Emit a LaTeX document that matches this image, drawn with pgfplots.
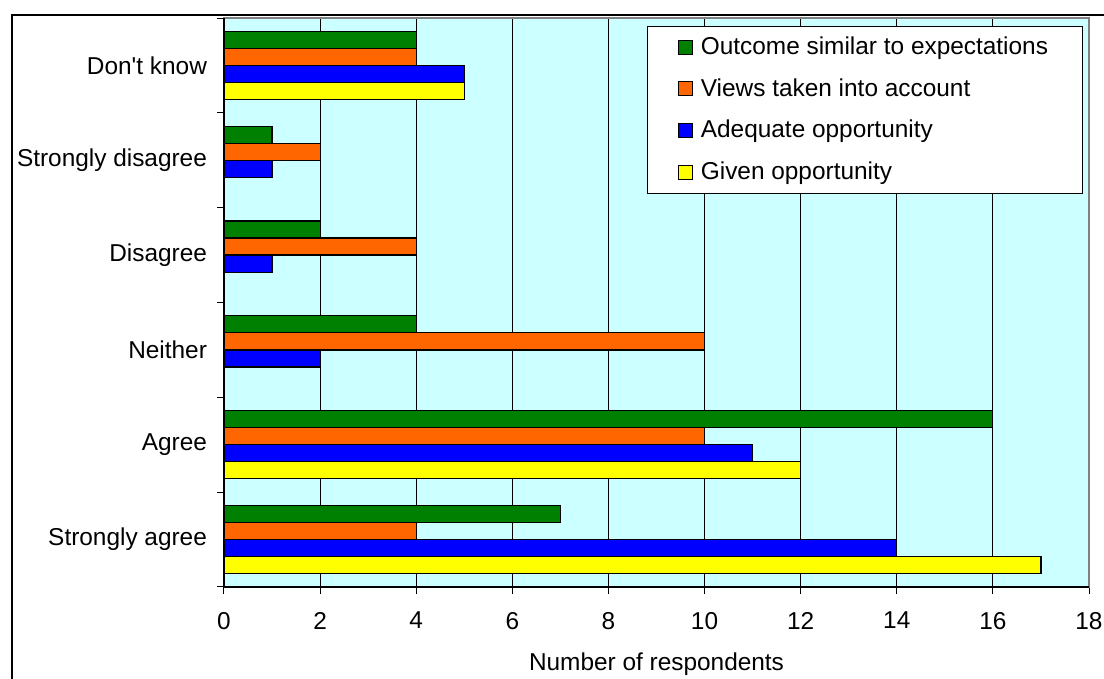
\documentclass[border=0pt]{standalone}
\usepackage{pgfplots}
\pgfplotsset{compat=1.18}
\usepackage{fontspec}
\setmainfont{Liberation Sans}[Ligatures=TeXOff]
\definecolor{bgcyan}{HTML}{CCFFFF}
\definecolor{sgreen}{HTML}{008000}
\definecolor{sorange}{HTML}{FF6600}
\definecolor{sblue}{HTML}{0000FF}
\definecolor{syellow}{HTML}{FFFF00}
\begin{document}
\begin{tikzpicture}
\path[use as bounding box] (-112pt,-46pt) rectangle (440pt,293.5pt);
\draw[black, line width=0.8pt] (-106pt,-46pt) -- (-106pt,286pt) -- (440pt,286pt);
\begin{axis}[
    at={(0,0)}, anchor=south west,
    scale only axis, width=432.5pt, height=284.5pt,
    xbar=0pt, bar width=0.18,
    xmin=0, xmax=18, ymin=0.5, ymax=6.5,
    xtick={0,2,...,18},
    ytick={1,2,3,4,5,6},
    yticklabels={Strongly agree, Agree, Neither, Disagree, Strongly disagree, Don't know},
    minor ytick={0.5,1.5,...,6.5},
    tick pos=left, tick align=outside,
    major tick length=3.5pt, minor tick length=3.5pt,
    major y tick style={draw=none},
    minor y tick style={black, line width=0.5pt},
    major x tick style={black, line width=0.5pt},
    xmajorgrids, major grid style={black, line width=0.5pt},
    axis background/.style={fill=bgcyan},
    axis line style={draw=gray, line width=0.8pt},
    /pgf/number format/assume math mode=true,
    tick label style={font=\fontsize{12.2}{14}\selectfont},
    xticklabel style={yshift=-5.5pt},
    yticklabel style={xshift=-1.5pt},
    xlabel={Number of respondents},
    xlabel style={font=\fontsize{12.2}{14}\selectfont, at={(axis description cs:0.5,0)}, anchor=center, yshift=-38.5pt},
    legend style={at={(0.993,0.986)}, anchor=north east, draw=black, fill=white,
        font=\fontsize{12.2}{14}\selectfont, row sep=6.5pt, column sep=2pt,
        inner xsep=15.25pt, inner ysep=3.25pt},
    legend cell align=left,
    legend image code/.code={\draw[#1, draw=black, line width=0.5pt] (0pt,-3.5pt) rectangle (7pt,3.5pt);},
    after end axis/.code={
        \draw[black, line width=0.8pt] (rel axis cs:0,1) -- (rel axis cs:0,0) -- (rel axis cs:1,0);
    },
]
\addplot[fill=sgreen, draw=black, line width=0.6pt, bar shift=0.27]
    coordinates {(7,1) (16,2) (4,3) (2,4) (1,5) (4,6)};
\addplot[fill=sorange, draw=black, line width=0.6pt, bar shift=0.09]
    coordinates {(4,1) (10,2) (10,3) (4,4) (2,5) (4,6)};
\addplot[fill=sblue, draw=black, line width=0.6pt, bar shift=-0.09]
    coordinates {(14,1) (11,2) (2,3) (1,4) (1,5) (5,6)};
\addplot[fill=syellow, draw=black, line width=0.6pt, bar shift=-0.27]
    coordinates {(17,1) (12,2) (5,6)};
\legend{Outcome similar to expectations, Views taken into account, Adequate opportunity, Given opportunity}
\end{axis}
\end{tikzpicture}
\end{document}
